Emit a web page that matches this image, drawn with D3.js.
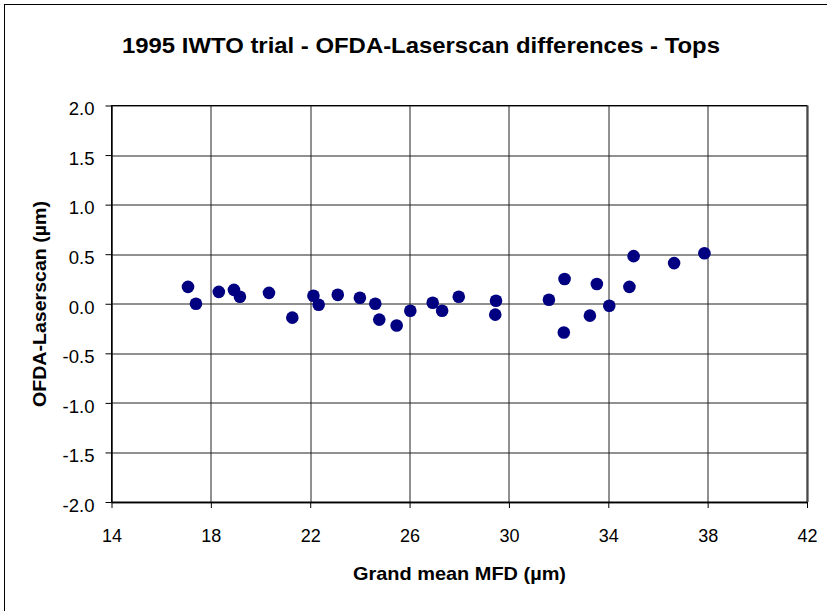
<!DOCTYPE html>
<html>
<head>
<meta charset="utf-8">
<script src="https://cdn.jsdelivr.net/npm/d3@7"></script>
<style>
  body { margin: 0; background: #fff; }
  text { font-family: "Liberation Sans", Arial, sans-serif; }
</style>
</head>
<body>
<div id="chart"></div>
<script>
// Grand mean MFD (x) and OFDA-Laserscan difference (y)
var mfd = [17.08, 17.40, 18.32, 18.93, 19.17, 20.34, 21.28, 22.13, 22.34, 23.11,
           24.00, 24.62, 24.78, 25.48, 26.03, 26.93, 27.31, 27.98, 29.48, 29.45,
           31.61, 32.24, 32.21, 33.26, 33.54, 34.04, 34.85, 35.02, 36.65, 37.87];
var diff = [0.17, 0.00, 0.12, 0.14, 0.07, 0.11, -0.14, 0.08, -0.01, 0.09,
            0.06, 0.00, -0.16, -0.22, -0.07, 0.01, -0.07, 0.07, 0.03, -0.11,
            0.04, 0.25, -0.29, -0.12, 0.20, -0.02, 0.17, 0.48, 0.41, 0.51];
var xTicks = [14, 18, 22, 26, 30, 34, 38, 42];
var yTicks = [-2.0, -1.5, -1.0, -0.5, 0.0, 0.5, 1.0, 1.5, 2.0];

var W = 827, H = 611;
var margin = {top: 105.5, right: 20, bottom: 109, left: 111.5};
var width = 807 - margin.left;
var height = 502 - margin.top;

var svg = d3.select("#chart")
  .append("svg")
    .attr("width", W)
    .attr("height", H);

// outer frame (right and bottom edges fall outside the picture)
svg.append("rect")
  .attr("x", 4.5).attr("y", 4.5)
  .attr("width", 900).attr("height", 700)
  .attr("fill", "#fff")
  .attr("stroke", "#000")
  .attr("stroke-width", 1);

svg.append("text")
  .attr("x", 122)
  .attr("y", 52.5)
  .attr("textLength", 598)
  .attr("lengthAdjust", "spacingAndGlyphs")
  .style("font-size", "22px")
  .style("font-weight", "bold")
  .text("1995 IWTO trial - OFDA-Laserscan differences - Tops");

var g = svg.append("g")
  .attr("transform", "translate(" + margin.left + "," + margin.top + ")");

var x = d3.scaleLinear().domain([14, 42]).range([0, width]);
var y = d3.scaleLinear().domain([-2, 2]).range([height, 0]);

// gridlines
g.append("g")
  .selectAll("line")
  .data(yTicks)
  .enter().append("line")
    .attr("x1", 0).attr("x2", width)
    .attr("y1", function(d) { return Math.round(y(d)) + 0.5; })
    .attr("y2", function(d) { return Math.round(y(d)) + 0.5; })
    .attr("stroke", "#222");
g.append("g")
  .selectAll("line")
  .data(xTicks)
  .enter().append("line")
    .attr("y1", 0).attr("y2", height)
    .attr("x1", function(d) { return Math.round(x(d)) + 0.5; })
    .attr("x2", function(d) { return Math.round(x(d)) + 0.5; })
    .attr("stroke", "#222");

// axes (plain hyphen for negatives, like the original)
var fmt = function(d) { return d.toFixed(1); };
var xAxis = g.append("g")
  .attr("transform", "translate(0," + height + ")")
  .call(d3.axisBottom(x).tickValues(xTicks).tickSize(6).tickPadding(21).tickSizeOuter(0));
var yAxis = g.append("g")
  .call(d3.axisLeft(y).tickValues(yTicks).tickFormat(fmt).tickSize(6).tickPadding(11).tickSizeOuter(0));
xAxis.selectAll("text").style("font-size", "18px");
yAxis.selectAll("text").style("font-size", "18.5px").attr("dy", "0.5em");
[xAxis, yAxis].forEach(function(a) {
  a.selectAll("text").attr("fill", "#000")
    .style("font-family", "'Liberation Sans', Arial, sans-serif");
  a.selectAll("line").attr("stroke", "#000");
  a.select(".domain").attr("stroke", "#000");
});

// plot border
g.append("rect")
  .attr("x", 0).attr("y", 0)
  .attr("width", width).attr("height", height)
  .attr("fill", "none")
  .attr("stroke", "#000");

// points
g.append("g")
  .selectAll("circle")
  .data(mfd)
  .enter().append("circle")
    .attr("cx", function(d) { return x(d); })
    .attr("cy", function(d, i) { return y(diff[i]); })
    .attr("r", 6.3)
    .attr("fill", "#000080");

svg.append("text")
  .attr("x", 353)
  .attr("y", 579.5)
  .attr("textLength", 213)
  .attr("lengthAdjust", "spacingAndGlyphs")
  .style("font-size", "18.5px")
  .style("font-weight", "bold")
  .text("Grand mean MFD (µm)");

svg.append("text")
  .attr("transform", "translate(46,304) rotate(-90)")
  .attr("text-anchor", "middle")
  .attr("textLength", 206)
  .attr("lengthAdjust", "spacingAndGlyphs")
  .style("font-size", "18px")
  .style("font-weight", "bold")
  .text("OFDA-Laserscan (µm)");
</script>
</body>
</html>
